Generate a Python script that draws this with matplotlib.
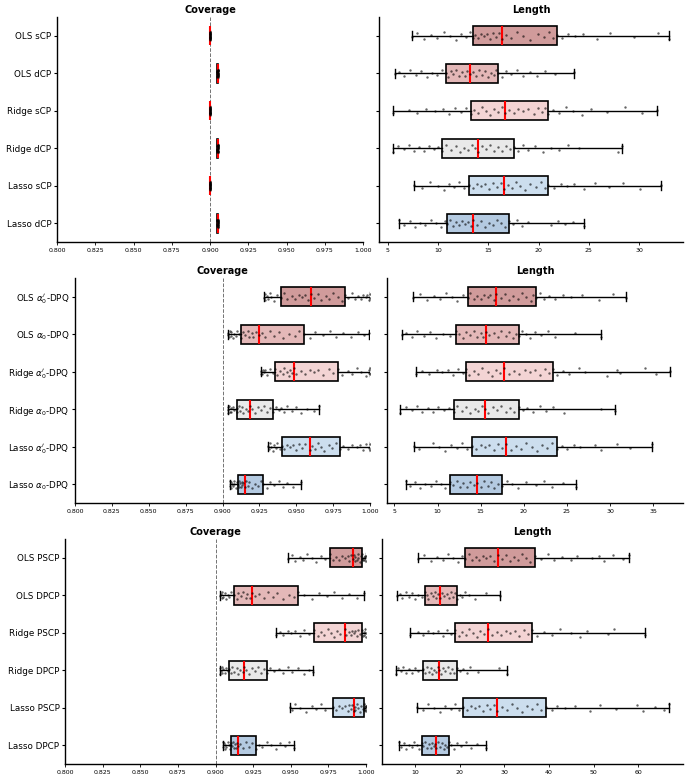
import numpy as np
import matplotlib
matplotlib.use("Agg")
import matplotlib.pyplot as plt

# ---- data ----
labels_top = ["OLS sCP", "OLS dCP", "Ridge sCP", "Ridge dCP", "Lasso sCP", "Lasso dCP"]
labels_mid = [r"OLS $\alpha_0'$-DPQ", r"OLS $\alpha_0$-DPQ", r"Ridge $\alpha_0'$-DPQ",
              r"Ridge $\alpha_0$-DPQ", r"Lasso $\alpha_0'$-DPQ", r"Lasso $\alpha_0$-DPQ"]
labels_bot = ["OLS PSCP", "OLS DPCP", "Ridge PSCP", "Ridge DPCP", "Lasso PSCP", "Lasso DPCP"]

# five-number summaries: whisker low, q1, median, q3, whisker high
top_cov_box = [[0.8998, 0.8999, 0.9, 0.9001, 0.9002], [0.9045, 0.9048, 0.905, 0.9052, 0.9055],
               [0.8998, 0.8999, 0.9, 0.9001, 0.9002], [0.9045, 0.9048, 0.905, 0.9052, 0.9055],
               [0.8998, 0.8999, 0.9, 0.9001, 0.9002], [0.9045, 0.9048, 0.905, 0.9052, 0.9055]]
top_len_box = [[7.4, 13.5, 16.4, 21.8, 33.0], [5.7, 10.8, 13.2, 16.0, 23.5],
               [5.5, 13.3, 16.7, 20.9, 31.8], [5.5, 10.4, 14.0, 17.6, 28.3],
               [7.6, 13.1, 16.6, 20.9, 32.2], [6.1, 10.9, 13.5, 17.1, 24.5]]
mid_cov_box = [[0.928, 0.9397, 0.960, 0.983, 1.0], [0.9035, 0.9128, 0.9247, 0.9555, 0.9995],
               [0.9259, 0.9358, 0.9485, 0.978, 1.0], [0.9035, 0.9096, 0.9189, 0.9345, 0.9657],
               [0.9311, 0.9403, 0.9593, 0.9797, 1.0], [0.9051, 0.9105, 0.915, 0.9277, 0.953]]
mid_len_box = [[7.1, 13.48, 16.8, 21.4, 31.8], [5.9, 12.16, 15.6, 19.44, 29.0],
               [7.5, 13.28, 17.7, 23.35, 36.9], [5.7, 11.9, 15.45, 19.44, 30.6],
               [7.3, 14.0, 17.9, 23.85, 34.9], [6.3, 11.4, 14.6, 17.5, 26.1]]
bot_cov_box = [[0.9483, 0.976, 0.9911, 0.9971, 0.9998], [0.9031, 0.9124, 0.9244, 0.955, 0.9989],
               [0.9401, 0.9656, 0.9858, 0.9976, 0.9998], [0.9031, 0.9093, 0.9188, 0.9341, 0.9647],
               [0.9492, 0.9778, 0.992, 0.9987, 1.0], [0.9051, 0.9102, 0.9149, 0.927, 0.9519]]
bot_len_box = [[10.8, 21.3, 28.5, 36.9, 57.8], [6.0, 12.2, 15.7, 19.5, 29.0],
               [8.9, 19.0, 26.3, 36.3, 61.5], [5.7, 11.9, 15.4, 19.5, 30.7],
               [10.5, 20.7, 28.4, 39.25, 66.9], [6.4, 11.5, 14.8, 17.6, 26.0]]

# individual runs (approximate)
sc = [0.8998, 0.8999, 0.8999, 0.9, 0.9, 0.9, 0.9, 0.9, 0.9, 0.9001, 0.9001, 0.9002,
      0.8999, 0.9, 0.9, 0.9001, 0.9, 0.8999, 0.9, 0.9]
dc = [0.9045, 0.9047, 0.9048, 0.905, 0.905, 0.905, 0.9049, 0.9051, 0.905, 0.9052, 0.9053,
      0.9055, 0.9049, 0.905, 0.9051, 0.905, 0.9048, 0.905, 0.9051, 0.905]
top_cov_pts = [sc, dc, sc, dc, sc, dc]
top_len_pts = [
    [7.4, 7.9, 8.6, 9.3, 9.9, 10.6, 11.2, 11.8, 12.3, 12.8, 13.2, 13.5, 13.7, 14.0, 14.3, 14.6,
     14.9, 15.2, 15.5, 15.8, 16.1, 16.4, 16.8, 17.3, 17.9, 18.5, 19.2, 19.9, 20.5, 21.0, 21.4,
     21.8, 22.3, 22.9, 23.6, 24.4, 25.8, 27.1, 29.5, 31.9, 33.0],
    [5.7, 6.1, 6.6, 7.2, 7.8, 8.3, 8.9, 9.4, 9.9, 10.4, 10.8, 11.0, 11.3, 11.5, 11.8, 12.1, 12.4,
     12.7, 12.9, 13.2, 13.5, 13.8, 14.1, 14.4, 14.7, 15.0, 15.3, 15.6, 15.8, 16.0, 16.4, 16.8,
     17.3, 17.9, 18.5, 19.2, 19.8, 20.6, 21.6, 23.5],
    [5.5, 7.1, 7.9, 8.8, 9.7, 10.5, 11.1, 11.7, 12.3, 12.8, 13.3, 13.6, 14.0, 14.4, 14.8, 15.2,
     15.6, 16.0, 16.4, 16.7, 17.1, 17.6, 18.0, 18.5, 19.0, 19.5, 19.9, 20.3, 20.6, 20.9, 21.4,
     22.0, 22.7, 23.4, 24.3, 25.2, 26.8, 28.6, 30.3, 31.8],
    [5.5, 6.0, 6.6, 7.1, 7.6, 8.1, 8.6, 9.1, 9.6, 10.0, 10.4, 10.8, 11.3, 11.8, 12.2, 12.6, 13.0,
     13.4, 13.7, 14.0, 14.4, 14.8, 15.2, 15.6, 16.0, 16.4, 16.8, 17.2, 17.6, 18.0, 18.5, 19.0,
     19.6, 20.4, 21.2, 22.0, 22.9, 24.0, 27.9, 28.3],
    [7.6, 8.4, 9.2, 10.0, 10.6, 11.1, 11.6, 12.1, 12.6, 13.1, 13.5, 13.9, 14.3, 14.7, 15.1, 15.5,
     15.9, 16.3, 16.6, 17.0, 17.4, 17.8, 18.2, 18.7, 19.2, 19.7, 20.2, 20.6, 20.9, 21.5, 22.2,
     22.8, 23.5, 24.5, 25.6, 27.0, 28.4, 30.1, 32.2],
    [6.1, 6.6, 7.2, 7.7, 8.2, 8.7, 9.3, 9.8, 10.3, 10.7, 10.9, 11.2, 11.5, 11.8, 12.1, 12.4, 12.7,
     13.0, 13.3, 13.5, 13.9, 14.3, 14.7, 15.1, 15.5, 15.9, 16.3, 16.7, 17.1, 17.5, 17.9, 18.4,
     19.0, 21.2, 21.9, 22.6, 23.4, 24.5],
]
mid_cov_pts = [
    [0.928, 0.9285, 0.929, 0.930, 0.931, 0.932, 0.933, 0.935, 0.937, 0.9397, 0.942, 0.944, 0.947,
     0.949, 0.952, 0.954, 0.956, 0.958, 0.960, 0.962, 0.965, 0.967, 0.970, 0.972, 0.975, 0.978,
     0.981, 0.983, 0.985, 0.988, 0.990, 0.992, 0.994, 0.995, 0.997, 0.998, 0.999, 1.0, 1.0],
    [0.9035, 0.904, 0.9045, 0.905, 0.9055, 0.906, 0.907, 0.908, 0.909, 0.910, 0.9115, 0.9128,
     0.914, 0.915, 0.917, 0.918, 0.920, 0.921, 0.923, 0.9247, 0.927, 0.929, 0.932, 0.935, 0.938,
     0.941, 0.945, 0.949, 0.952, 0.9555, 0.959, 0.963, 0.968, 0.973, 0.977, 0.982, 0.987, 0.992,
     0.996, 0.9995],
    [0.9259, 0.926, 0.927, 0.9275, 0.928, 0.929, 0.930, 0.932, 0.934, 0.9358, 0.937, 0.939,
     0.941, 0.942, 0.944, 0.945, 0.946, 0.947, 0.9485, 0.950, 0.953, 0.956, 0.959, 0.962, 0.965,
     0.968, 0.972, 0.975, 0.978, 0.981, 0.985, 0.988, 0.991, 0.994, 0.997, 0.999, 0.9995, 1.0, 1.0],
    [0.9035, 0.9037, 0.904, 0.9045, 0.905, 0.9055, 0.906, 0.907, 0.908, 0.9096, 0.910, 0.911,
     0.912, 0.913, 0.914, 0.916, 0.917, 0.9189, 0.920, 0.922, 0.924, 0.926, 0.928, 0.930, 0.932,
     0.9345, 0.936, 0.938, 0.940, 0.942, 0.944, 0.947, 0.950, 0.953, 0.957, 0.962, 0.9657],
    [0.9311, 0.9315, 0.932, 0.933, 0.934, 0.935, 0.936, 0.937, 0.939, 0.9403, 0.942, 0.944,
     0.946, 0.948, 0.950, 0.952, 0.954, 0.956, 0.9593, 0.961, 0.963, 0.965, 0.967, 0.969, 0.972,
     0.974, 0.977, 0.9797, 0.982, 0.985, 0.988, 0.991, 0.993, 0.995, 0.997, 0.999, 1.0, 1.0],
    [0.9051, 0.9053, 0.9056, 0.906, 0.9065, 0.907, 0.9075, 0.908, 0.909, 0.910, 0.9105, 0.911,
     0.9115, 0.912, 0.9125, 0.913, 0.9135, 0.914, 0.915, 0.916, 0.917, 0.918, 0.920, 0.922,
     0.924, 0.926, 0.9277, 0.930, 0.932, 0.935, 0.938, 0.941, 0.944, 0.948, 0.953],
]
mid_len_pts = [
    [7.1, 8.0, 8.8, 9.6, 10.3, 11.0, 11.7, 12.3, 12.9, 13.48, 13.8, 14.2, 14.6, 15.0, 15.4, 15.8,
     16.1, 16.5, 16.8, 17.3, 17.8, 18.3, 18.8, 19.3, 19.8, 20.3, 20.8, 21.1, 21.4, 21.9, 22.4,
     22.9, 23.6, 24.6, 25.5, 26.7, 28.7, 30.3, 31.8],
    [5.9, 6.3, 7.0, 7.6, 8.4, 9.1, 9.8, 10.6, 11.4, 12.16, 12.5, 12.9, 13.3, 13.8, 14.2, 14.6,
     15.0, 15.3, 15.6, 16.0, 16.5, 17.0, 17.4, 17.9, 18.3, 18.7, 19.1, 19.44, 19.8, 20.2, 20.7,
     21.3, 22.0, 22.8, 23.6, 25.9, 29.0],
    [7.5, 8.2, 9.0, 9.9, 10.5, 11.2, 11.8, 12.4, 12.9, 13.28, 13.7, 14.2, 14.7, 15.2, 15.8, 16.3,
     16.8, 17.2, 17.7, 18.3, 18.9, 19.5, 20.1, 20.7, 21.3, 21.9, 22.5, 22.9, 23.35, 23.9, 24.5,
     25.3, 26.4, 27.1, 29.6, 30.8, 31.1, 34.1, 35.3, 36.9],
    [5.7, 6.4, 7.0, 7.6, 8.2, 8.9, 9.5, 10.1, 10.7, 11.3, 11.9, 12.3, 12.8, 13.3, 13.8, 14.3,
     14.7, 15.1, 15.45, 15.9, 16.4, 16.9, 17.4, 17.9, 18.4, 18.9, 19.44, 19.9, 20.4, 21.1, 21.9,
     22.6, 23.4, 24.7, 28.9, 30.6],
    [7.3, 7.9, 9.5, 10.2, 10.9, 11.6, 12.2, 12.8, 13.4, 14.0, 14.5, 15.0, 15.5, 16.0, 16.5, 17.0,
     17.5, 17.9, 18.5, 19.1, 19.7, 20.3, 20.9, 21.5, 22.1, 22.7, 23.3, 23.85, 24.4, 25.0, 25.8,
     26.5, 28.3, 28.9, 30.8, 32.3, 34.9],
    [6.3, 6.8, 7.4, 8.0, 8.6, 9.2, 9.8, 10.4, 10.9, 11.4, 11.8, 12.2, 12.6, 13.0, 13.4, 13.8,
     14.2, 14.6, 15.0, 15.4, 15.8, 16.2, 16.6, 17.0, 17.5, 18.0, 18.6, 19.3, 20.2, 21.4, 22.4,
     23.3, 24.6, 26.1],
]
bot_cov_pts = [
    [0.9483, 0.951, 0.953, 0.956, 0.958, 0.961, 0.964, 0.967, 0.970, 0.973, 0.976, 0.978, 0.980,
     0.982, 0.984, 0.986, 0.988, 0.989, 0.990, 0.9911, 0.992, 0.9925, 0.993, 0.994, 0.9945, 0.995,
     0.996, 0.9965, 0.9971, 0.9975, 0.998, 0.9985, 0.999, 0.9993, 0.9995, 0.9998, 0.9998],
    [0.9031, 0.9035, 0.904, 0.9045, 0.905, 0.906, 0.907, 0.908, 0.909, 0.9105, 0.9124, 0.914,
     0.915, 0.917, 0.918, 0.920, 0.921, 0.923, 0.9244, 0.926, 0.929, 0.932, 0.935, 0.938, 0.941,
     0.945, 0.949, 0.952, 0.955, 0.959, 0.964, 0.969, 0.974, 0.979, 0.984, 0.989, 0.994, 0.9989],
    [0.9401, 0.943, 0.945, 0.948, 0.950, 0.953, 0.956, 0.959, 0.962, 0.9656, 0.968, 0.970, 0.972,
     0.975, 0.977, 0.979, 0.981, 0.983, 0.9858, 0.987, 0.989, 0.990, 0.991, 0.992, 0.993, 0.994,
     0.995, 0.996, 0.9976, 0.998, 0.9985, 0.999, 0.9995, 0.9998, 0.9998],
    [0.9031, 0.9033, 0.9036, 0.904, 0.9045, 0.905, 0.906, 0.907, 0.908, 0.9093, 0.910, 0.911,
     0.912, 0.914, 0.915, 0.916, 0.918, 0.9188, 0.920, 0.922, 0.924, 0.926, 0.928, 0.930, 0.932,
     0.9341, 0.936, 0.939, 0.942, 0.945, 0.948, 0.951, 0.955, 0.959, 0.962, 0.9647],
    [0.9492, 0.951, 0.953, 0.956, 0.960, 0.964, 0.967, 0.970, 0.973, 0.9778, 0.980, 0.982, 0.984,
     0.986, 0.988, 0.989, 0.990, 0.991, 0.992, 0.9925, 0.993, 0.994, 0.995, 0.996, 0.997, 0.998,
     0.9987, 0.999, 0.9993, 0.9995, 0.9998, 1.0, 1.0, 1.0],
    [0.9051, 0.9053, 0.9056, 0.906, 0.9065, 0.907, 0.908, 0.909, 0.9095, 0.9102, 0.9108, 0.9115,
     0.912, 0.9128, 0.9135, 0.914, 0.9149, 0.916, 0.918, 0.920, 0.922, 0.924, 0.927, 0.929, 0.931,
     0.934, 0.937, 0.940, 0.943, 0.946, 0.949, 0.9519],
]
bot_len_pts = [
    [10.8, 12.0, 13.5, 15.0, 16.3, 17.5, 18.6, 19.6, 20.5, 21.3, 22.0, 22.8, 23.6, 24.4, 25.2,
     26.0, 26.8, 27.7, 28.5, 29.4, 30.3, 31.2, 32.1, 33.0, 33.9, 34.8, 35.8, 36.9, 38.2, 39.7,
     41.2, 43.0, 44.8, 46.3, 49.5, 51.2, 52.4, 54.4, 56.5, 57.8],
    [6.0, 6.6, 7.2, 7.9, 8.6, 9.3, 10.0, 10.7, 11.5, 12.2, 12.6, 13.0, 13.5, 14.0, 14.4, 14.8,
     15.2, 15.7, 16.1, 16.6, 17.1, 17.6, 18.1, 18.6, 19.0, 19.5, 20.0, 20.6, 21.3, 22.1, 23.4,
     25.8, 29.0],
    [8.9, 10.8, 11.8, 12.9, 14.0, 15.1, 16.2, 17.1, 18.1, 19.0, 19.8, 20.6, 21.4, 22.2, 23.0,
     23.8, 24.6, 25.4, 26.3, 27.3, 28.3, 29.3, 30.3, 31.3, 32.3, 33.3, 34.3, 35.3, 36.3, 37.4,
     38.8, 40.6, 42.5, 45.0, 46.9, 48.5, 53.2, 54.5, 61.5],
    [5.7, 6.2, 6.8, 7.4, 8.0, 8.6, 9.3, 10.0, 10.8, 11.9, 12.3, 12.7, 13.1, 13.5, 13.9, 14.3,
     14.7, 15.1, 15.4, 15.8, 16.3, 16.8, 17.3, 17.8, 18.3, 18.8, 19.5, 20.1, 20.8, 21.6, 22.4,
     24.0, 28.8, 30.7],
    [10.5, 11.8, 13.0, 14.3, 15.6, 16.8, 18.0, 19.0, 19.9, 20.7, 21.6, 22.5, 23.4, 24.3, 25.2,
     26.1, 26.9, 27.7, 28.4, 29.5, 30.6, 31.7, 32.8, 33.9, 35.0, 36.1, 37.2, 38.3, 39.25, 40.6,
     41.8, 43.5, 45.8, 49.2, 51.5, 55.0, 59.6, 61.0, 63.7, 65.8, 66.9],
    [6.4, 6.9, 7.5, 8.1, 8.7, 9.3, 9.9, 10.5, 11.0, 11.5, 11.9, 12.3, 12.7, 13.1, 13.5, 13.9,
     14.2, 14.5, 14.8, 15.2, 15.6, 16.0, 16.4, 16.8, 17.2, 17.6, 18.1, 18.7, 19.4, 20.3, 21.5,
     22.6, 23.8, 26.0],
]

box_colors = ["#d09b9b", "#e4b8b8", "#f3d4d4", "#e9e9e9", "#ccdeee", "#b4cae1"]
JITTER = np.array([0.04, -0.07, 0.09, -0.02, 0.05, -0.1, 0.0, 0.1, -0.05, 0.03,
                   -0.09, 0.07, -0.03, 0.06, -0.06, 0.01, -0.04, 0.08, -0.08])

W, H = 690, 780
fig = plt.figure(figsize=(W / 100, H / 100), dpi=100)


def add_ax(x0, x1, y0, y1):
    return fig.add_axes([x0 / W, 1 - y1 / H, (x1 - x0) / W, (y1 - y0) / H])


def draw(ax, box, pts, labels, title, coverage):
    stats = [dict(whislo=b[0], q1=b[1], med=b[2], q3=b[3], whishi=b[4]) for b in box]
    pos = np.arange(len(box))
    bp = ax.bxp(stats, positions=pos, vert=False, widths=0.5, capwidths=0.25,
                showfliers=False, patch_artist=True,
                boxprops=dict(edgecolor="black", linewidth=1.2),
                whiskerprops=dict(color="black", linewidth=1.0),
                capprops=dict(color="black", linewidth=1.0),
                medianprops=dict(color="red", linewidth=1.5, zorder=3))
    for patch, c in zip(bp["boxes"], box_colors):
        patch.set_facecolor(c)
    for i, p in enumerate(pts):
        jit = np.resize(np.roll(JITTER, i * 4), len(p))
        ax.scatter(p, i + jit, s=3, color="black", alpha=0.6, linewidths=0, zorder=4)
    if coverage:
        ax.axvline(0.9, color="0.45", ls="--", lw=0.7, zorder=0)
        ax.set_xlim(0.8, 1.0)
        ax.set_xticks(np.arange(0.8, 1.0001, 0.025))
    ax.set_ylim(len(box) - 0.5, -0.5)
    ax.set_yticks(pos)
    if labels is not None:
        ax.set_yticklabels(labels, fontsize=6.3)
    else:
        ax.set_yticklabels([])
    ax.tick_params(axis="x", labelsize=4.5, length=2, width=0.6, pad=2)
    ax.tick_params(axis="y", length=2.5, width=0.8, pad=1.5)
    ax.set_title(title, fontsize=7, fontweight="bold", pad=3)
    for s in ["top", "right"]:
        ax.spines[s].set_visible(False)
    ax.spines["left"].set_linewidth(1.0)
    ax.spines["bottom"].set_linewidth(1.0)


draw(add_ax(57, 363, 17, 242), top_cov_box, top_cov_pts, labels_top, "Coverage", True)
draw(add_ax(379, 683, 17, 242), top_len_box, top_len_pts, None, "Length", False)
draw(add_ax(75, 370, 278, 503), mid_cov_box, mid_cov_pts, labels_mid, "Coverage", True)
draw(add_ax(387, 683, 278, 503), mid_len_box, mid_len_pts, None, "Length", False)
draw(add_ax(65, 366, 539, 764), bot_cov_box, bot_cov_pts, labels_bot, "Coverage", True)
draw(add_ax(382, 683, 539, 764), bot_len_box, bot_len_pts, None, "Length", False)

fig.savefig("out.png", dpi=100)
